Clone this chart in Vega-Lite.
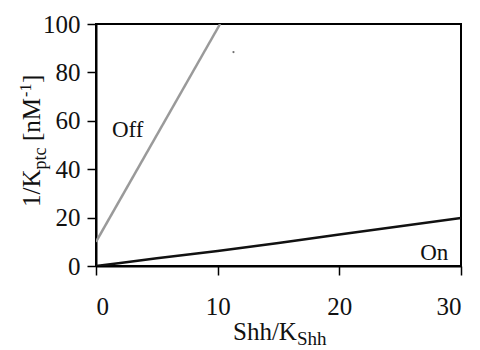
{
  "$schema": "https://vega.github.io/schema/vega-lite/v6.json",
  "autosize": "none",
  "width": 365,
  "height": 242,
  "padding": {"left": 96, "top": 24, "right": 19, "bottom": 84},
  "background": "white",
  "config": {
    "font": "Liberation Serif",
    "view": {"stroke": "black", "strokeWidth": 2},
    "axis": {"grid": false, "domainColor": "black", "domainWidth": 2, "tickColor": "black", "tickWidth": 1.5, "labelFont": "Liberation Serif", "labelColor": "#111", "labelFontSize": 25, "titleFont": "Liberation Serif"}
  },
  "datasets": {
    "curves": [
      {"x": 0, "y": 10, "series": "Off"},
      {"x": 10.2, "y": 100, "series": "Off"},
      {"x": 0, "y": 0, "series": "On"},
      {"x": 2, "y": 1.2, "series": "On"},
      {"x": 5, "y": 3.2, "series": "On"},
      {"x": 10, "y": 6.2, "series": "On"},
      {"x": 15, "y": 9.5, "series": "On"},
      {"x": 20, "y": 13, "series": "On"},
      {"x": 25, "y": 16.4, "series": "On"},
      {"x": 30, "y": 19.8, "series": "On"}
    ],
    "labels": [
      {"x": 2.6, "y": 56, "label": "Off"},
      {"x": 27.8, "y": 5.4, "label": "On"}
    ],
    "dots": [
      {"x": 11.3, "y": 88.4}
    ],
    "one": [{}]
  },
  "layer": [
    {
      "data": {"name": "curves"},
      "mark": {"type": "line", "strokeWidth": 2.5, "clip": true},
      "encoding": {
        "x": {"field": "x", "type": "quantitative", "scale": {"domain": [0, 30], "nice": false}, "axis": {"values": [0, 10, 20, 30], "title": null, "tickSize": 9, "labelPadding": 19, "domain": true}},
        "y": {"field": "y", "type": "quantitative", "scale": {"domain": [0, 100], "nice": false}, "axis": {"values": [0, 20, 40, 60, 80, 100], "title": null, "tickSize": 9, "labelPadding": 7}},
        "color": {"field": "series", "type": "nominal", "scale": {"domain": ["Off", "On"], "range": ["#9a9a9a", "#111111"]}, "legend": null},
        "detail": {"field": "series"}
      }
    },
    {
      "data": {"name": "dots"},
      "mark": {"type": "point", "filled": true, "size": 5, "color": "#333"},
      "encoding": {
        "x": {"field": "x", "type": "quantitative"},
        "y": {"field": "y", "type": "quantitative"}
      }
    },
    {
      "data": {"name": "labels"},
      "mark": {"type": "text", "fontSize": 23, "color": "#111", "align": "center", "baseline": "middle"},
      "encoding": {
        "x": {"field": "x", "type": "quantitative"},
        "y": {"field": "y", "type": "quantitative"},
        "text": {"field": "label"}
      }
    },
    {
      "data": {"name": "one"},
      "mark": {"type": "text", "text": "Shh/K", "fontSize": 25, "color": "#111", "align": "left", "baseline": "alphabetic"},
      "encoding": {"x": {"datum": 11.26}, "y": {"datum": -30.6}}
    },
    {
      "data": {"name": "one"},
      "mark": {"type": "text", "text": "Shh", "fontSize": 19, "color": "#111", "align": "left", "baseline": "alphabetic", "dx": 64, "dy": 5},
      "encoding": {"x": {"datum": 11.26}, "y": {"datum": -30.6}}
    },
    {
      "data": {"name": "one"},
      "mark": {"type": "text", "text": "1/K", "fontSize": 25, "color": "#111", "align": "left", "baseline": "alphabetic", "angle": 270},
      "encoding": {"x": {"datum": -4.6}, "y": {"datum": 24.4}}
    },
    {
      "data": {"name": "one"},
      "mark": {"type": "text", "text": "ptc", "fontSize": 18, "color": "#111", "align": "left", "baseline": "alphabetic", "angle": 270, "dx": 37.5, "dy": 6},
      "encoding": {"x": {"datum": -4.6}, "y": {"datum": 24.4}}
    },
    {
      "data": {"name": "one"},
      "mark": {"type": "text", "text": "[nM", "fontSize": 25, "color": "#111", "align": "left", "baseline": "alphabetic", "angle": 270, "dx": 66},
      "encoding": {"x": {"datum": -4.6}, "y": {"datum": 24.4}}
    },
    {
      "data": {"name": "one"},
      "mark": {"type": "text", "text": "-1", "fontSize": 16, "color": "#111", "align": "left", "baseline": "alphabetic", "angle": 270, "dx": 110, "dy": -9},
      "encoding": {"x": {"datum": -4.6}, "y": {"datum": 24.4}}
    },
    {
      "data": {"name": "one"},
      "mark": {"type": "text", "text": "]", "fontSize": 25, "color": "#111", "align": "left", "baseline": "alphabetic", "angle": 270, "dx": 124},
      "encoding": {"x": {"datum": -4.6}, "y": {"datum": 24.4}}
    }
  ]
}
